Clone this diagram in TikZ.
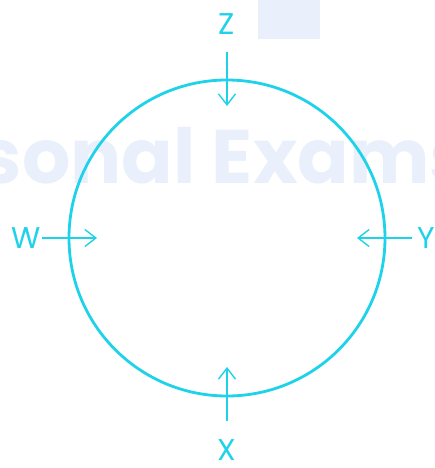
\documentclass[tikz,border=0pt]{standalone}
\usepackage{fontspec}
\setmainfont{Poppins}
\usetikzlibrary{arrows.meta}
\definecolor{cy}{HTML}{1ED2EA}
\definecolor{wm}{HTML}{E9F0FC}
\tikzset{
  arr/.style={draw=cy, line width=2.6pt, -{Straight Barb[length=11pt,width=17pt,line width=1.4pt]}},
  lbl/.style={text=cy, font=\fontsize{30}{30}\selectfont, inner sep=0pt},
}
\begin{document}
\begin{tikzpicture}[x=1pt,y=-1pt]
\useasboundingbox (0,0) rectangle (435,468);
\fill[wm] (258,0) rectangle (320,39);
\node[text=wm, font=\fontsize{76}{76}\selectfont\bfseries, inner sep=0pt, anchor=base] (wmk) at (226,183) {sonal Exams};
\node[draw=cy, line width=2.8pt, circle, minimum size=316pt, inner sep=0pt] (c) at (227,238) {};
\node[lbl] (Z) at (227,24) {Z};
\node[lbl] (W) at (26,238) {W};
\node[lbl] (Y) at (426,238) {Y};
\node[lbl] (X) at (227,450) {X};
\coordinate (zs) at (227,52); \coordinate (zt) at (227,106);
\coordinate (ws) at (42,238); \coordinate (wt) at (97,238);
\coordinate (ys) at (412,238); \coordinate (yt) at (357,238);
\coordinate (xs) at (227,421); \coordinate (xt) at (227,367);
\draw[arr] (zs) -- (zt);
\draw[arr] (ws) -- (wt);
\draw[arr] (ys) -- (yt);
\draw[arr] (xs) -- (xt);
\end{tikzpicture}
\end{document}
